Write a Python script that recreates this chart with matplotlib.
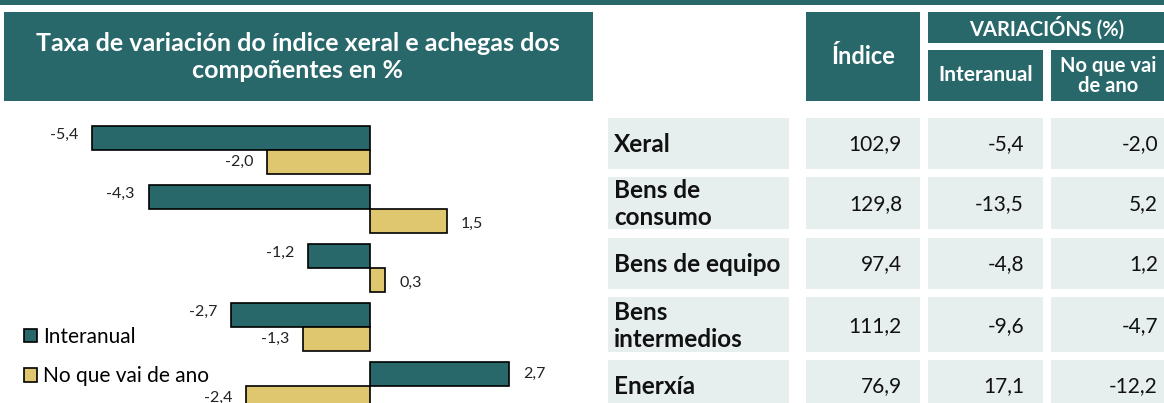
import matplotlib.pyplot as plt
from matplotlib.patches import Rectangle
import numpy as np

# data
groups = ["Xeral", "Bens de consumo", "Bens de equipo", "Bens intermedios", "Enerxía"]
interanual = [-5.4, -4.3, -1.2, -2.7, 2.7]
no_que_vai = [-2.0, 1.5, 0.3, -1.3, -2.4]

row_labels = ["Xeral", "Bens de\nconsumo", "Bens de equipo", "Bens\nintermedios", "Enerxía"]
tab_indice = ["102,9", "129,8", "97,4", "111,2", "76,9"]
tab_interanual = ["-5,4", "-13,5", "-4,8", "-9,6", "17,1"]
tab_noquevai = ["-2,0", "5,2", "1,2", "-4,7", "-12,2"]

teal = "#28686b"
yellow = "#dfc76f"
cell_bg = "#e7efee"

plt.rcParams['font.family'] = ['Lato', 'DejaVu Sans']

W, H = 1164, 403
fig = plt.figure(figsize=(W / 100, H / 100), dpi=100)

# overlay axes in pixel coordinates for boxes and table
ov = fig.add_axes([0, 0, 1, 1])
ov.set_xlim(0, W)
ov.set_ylim(H, 0)
ov.axis('off')

def box(x0, y0, x1, y1, color):
    ov.add_patch(Rectangle((x0, y0), x1 - x0, y1 - y0, facecolor=color, edgecolor='none', zorder=1))

# top band
box(0, 0, W, 4.5, teal)

# title box
box(4, 12, 593, 101, teal)
ov.text(298, 57, "Taxa de variación do índice xeral e achegas dos\ncompoñentes en %", color='white',
        fontsize=18, fontweight='bold', ha='center', va='center', linespacing=1.2, zorder=2)

# table header
box(806, 12, 920, 101, teal)
ov.text(863, 56, "Índice", color='white', fontsize=17, fontweight='bold', ha='center', va='center', zorder=2)
box(928, 12, W, 43, teal)
ov.text(1047, 28, "VARIACIÓNS (%)", color='white', fontsize=14.5, fontweight='bold', ha='center', va='center', zorder=2)
box(928, 50, 1043, 101, teal)
ov.text(985.5, 75, "Interanual", color='white', fontsize=15, fontweight='bold', ha='center', va='center', zorder=2)
box(1051, 50, W, 101, teal)
ov.text(1108, 76, "No que vai\nde ano", color='white', fontsize=14.5, fontweight='bold', ha='center', va='center',
        linespacing=1.05, zorder=2)

# table rows
row_tops = [118, 177, 238, 297, 360]
row_bots = [169, 229, 289, 352, 412]
text_y = [144, 204, 264, 326, 386]
cols = [(608, 789), (806, 920), (928, 1043), (1051, W)]
for i in range(len(row_labels)):
    t, b = row_tops[i], row_bots[i]
    for c0, c1 in cols:
        box(c0, t, c1, b, cell_bg)
    yc = text_y[i]
    ov.text(614, yc, row_labels[i], fontsize=17.5, fontweight='bold', ha='left', va='center',
            linespacing=1.2, color='#111111', zorder=2)
    ov.text(902, yc, tab_indice[i], fontsize=15, ha='right', va='center', color='#111111', zorder=2)
    ov.text(1024, yc, tab_interanual[i], fontsize=15, ha='right', va='center', color='#111111', zorder=2)
    ov.text(1158, yc, tab_noquevai[i], fontsize=15, ha='right', va='center', color='#111111', zorder=2)

# bar chart axes
px_zero, px_per_unit = 370, 51.5
ax = fig.add_axes([0, 0, 600 / W, (403 - 110) / H])
ax.set_xlim((0 - px_zero) / px_per_unit, (600 - px_zero) / px_per_unit)
ax.set_ylim((403 - 150) / 59.0, (110 - 150) / 59.0)
ax.axis('off')
ax.patch.set_alpha(0)

ind = np.arange(len(groups))
h = 0.4
ax.barh(ind - h / 2, interanual, h, color=teal, edgecolor='black', linewidth=1.2, label='Interanual')
ax.barh(ind + h / 2, no_que_vai, h, color=yellow, edgecolor='black', linewidth=1.2, label='No que vai de ano')

def fmt(v):
    return ("%.1f" % v).replace('.', ',')

for i in ind:
    for v, off in ((interanual[i], -h / 2 - 0.05), (no_que_vai[i], h / 2)):
        if v < 0:
            ax.text(v - 0.27, i + off, fmt(v), ha='right', va='center', fontsize=11.5, color='#222222')
        else:
            ax.text(v + 0.27, i + off + 0.05, fmt(v), ha='left', va='center', fontsize=11.5, color='#222222')

leg = ax.legend(loc='center left', bbox_to_anchor=(0.04, 0.159), frameon=False, fontsize=15,
                handlelength=0.6, handleheight=0.6, handletextpad=0.3, labelspacing=0.95,
                borderpad=0, borderaxespad=0)
for p in leg.get_patches():
    p.set_linewidth(1.2)

fig.savefig('out.png', dpi=100)
